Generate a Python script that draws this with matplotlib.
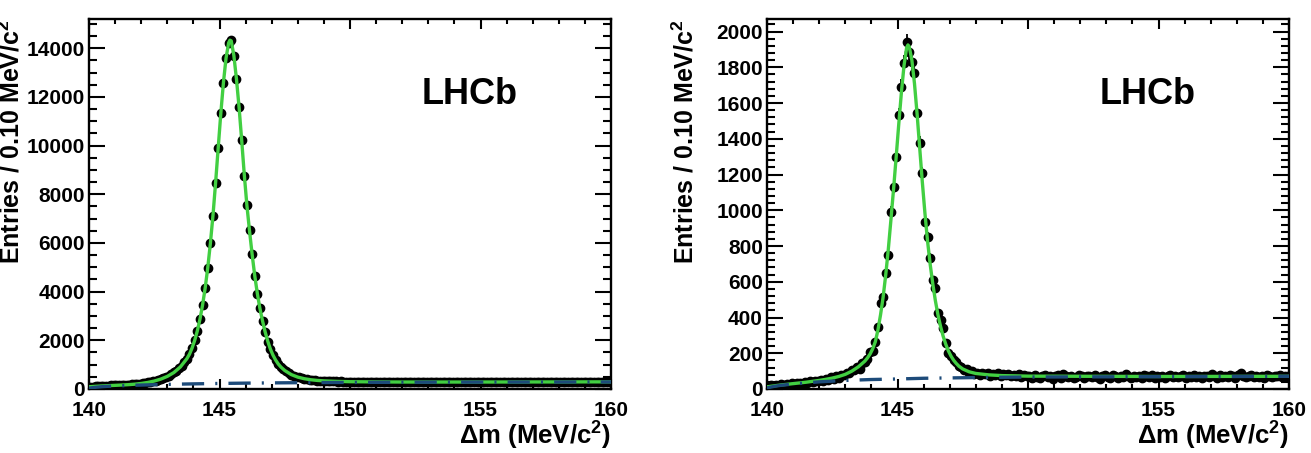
import numpy as np
import matplotlib
matplotlib.use("Agg")
import matplotlib.pyplot as plt
from matplotlib.ticker import MultipleLocator

plt.rcParams['font.family'] = ['Liberation Sans', 'DejaVu Sans']
plt.rcParams['font.weight'] = 'bold'
plt.rcParams['mathtext.fontset'] = 'custom'
plt.rcParams['mathtext.bf'] = 'Liberation Sans:bold'
plt.rcParams['mathtext.rm'] = 'Liberation Sans:bold'
plt.rcParams['mathtext.default'] = 'bf'
plt.rcParams['lines.scale_dashes'] = False

# ---------------- data ----------------
bin_first_center = 140.05
bin_width = 0.10

left_counts = [
    98, 101, 114, 112, 126, 125, 137, 136, 147, 145,
    156, 155, 168, 166, 178, 180, 193, 196, 212, 218,
    239, 248, 273, 286, 318, 338, 376, 403, 452, 489,
    550, 601, 681, 750, 856, 955, 1098, 1240, 1430, 1690,
    2000, 2380, 2860, 3440, 4130, 4980, 5990, 7120, 8480, 9900,
    11330, 12560, 13580, 14210, 14330, 13690, 12740, 11590, 10220, 8760,
    7540, 6520, 5540, 4660, 3910, 3310, 2800, 2340, 1950, 1630,
    1395, 1185, 1040, 900, 815, 722, 655, 588, 548, 500,
    480, 447, 418, 405, 381, 376, 360, 346, 345, 330,
    333, 322, 325, 312, 318, 305, 311, 300, 306, 297,
    298, 285, 292, 280, 301, 289, 276, 295, 290, 283,
    287, 300, 281, 293, 278, 296, 288, 284, 302, 279,
    291, 286, 297, 282, 289, 305, 277, 290, 294, 284,
    288, 281, 299, 292, 276, 287, 296, 283, 290, 301,
    285, 293, 280, 288, 297, 284, 291, 278, 300, 289,
    294, 283, 290, 302, 286, 279, 295, 288, 292, 281,
    297, 287, 284, 299, 291, 280, 293, 289, 303, 286,
    290, 296, 282, 288, 300, 285, 292, 278, 295, 291,
    287, 301, 289, 283, 297, 292, 280, 294, 299, 286,
    293, 288, 304, 290, 284, 298, 291, 287, 296, 292,
]

right_counts = [
    12, 22, 15, 25, 19, 28, 21, 30, 24, 33,
    27, 36, 31, 29, 41, 35, 44, 38, 47, 42,
    52, 45, 58, 50, 66, 57, 72, 64, 80, 76,
    90, 88, 106, 104, 125, 112, 146, 150, 168, 205,
    212, 265, 345, 480, 516, 647, 749, 990, 1131, 1299,
    1532, 1691, 1825, 1940, 1885, 1830, 1766, 1542, 1377, 1206,
    936, 850, 735, 610, 563, 423, 386, 339, 256, 200,
    185, 162, 150, 128, 121, 104, 110, 92, 98, 84,
    91, 79, 88, 82, 90, 75, 86, 80, 88, 73,
    84, 77, 82, 70, 79, 74, 83, 69, 77, 72,
    72, 64, 78, 69, 60, 75, 81, 67, 73, 58,
    70, 77, 63, 84, 71, 66, 74, 59, 68, 79,
    72, 62, 75, 70, 65, 80, 68, 57, 73, 76,
    69, 64, 78, 71, 60, 74, 67, 82, 70, 63,
    75, 68, 72, 61, 77, 70, 66, 79, 64, 72,
    69, 75, 62, 71, 80, 67, 73, 65, 70, 76,
    63, 74, 69, 78, 66, 71, 60, 75, 72, 68,
    83, 70, 64, 77, 69, 73, 66, 80, 71, 62,
    76, 88, 70, 67, 74, 79, 65, 72, 69, 75,
    63, 78, 71, 67, 74, 70, 76, 68, 72, 73,
]

# total fit (knots of the fitted curve)
left_fit_x = [140.0, 140.25, 140.5, 140.75, 141.0, 141.25, 141.5, 141.75, 142.0, 142.25,
              142.5, 142.75, 143.0, 143.25, 143.5, 143.75, 143.85, 143.95, 144.05, 144.15,
              144.25, 144.35, 144.45, 144.55, 144.65, 144.75, 144.85, 144.95, 145.05, 145.15,
              145.25, 145.35, 145.40, 145.45, 145.55, 145.65, 145.75, 145.85, 145.95, 146.05,
              146.15, 146.25, 146.35, 146.45, 146.55, 146.65, 146.75, 146.85, 146.95, 147.05,
              147.15, 147.25, 147.35, 147.5, 147.75, 148.0, 148.25, 148.5, 148.75, 149.0,
              149.5, 150.0, 151.0, 152.0, 154.0, 156.0, 158.0, 160.0]
left_fit_y = [92, 110, 125, 138, 150, 163, 178, 198, 228, 269,
              327, 407, 518, 675, 905, 1245, 1430, 1685, 2000, 2385,
              2860, 3440, 4140, 4980, 5980, 7130, 8470, 9900, 11320, 12580,
              13590, 14220, 14330, 14300, 13700, 12730, 11570, 10220, 8800, 7540,
              6500, 5530, 4660, 3920, 3300, 2790, 2340, 1960, 1640, 1390,
              1190, 1030, 905, 760, 592, 488, 422, 380, 352, 334,
              313, 300, 291, 287, 286, 288, 291, 294]
# background component
left_bkg_x = [140.0, 140.25, 140.5, 140.75, 141.0, 141.5, 142.0, 142.5, 143.0, 143.5,
              144.0, 145.0, 146.0, 147.0, 148.0, 150.0, 152.0, 155.0, 160.0]
left_bkg_y = [35, 70, 95, 112, 125, 145, 162, 176, 190, 201,
              211, 228, 241, 251, 259, 270, 277, 283, 290]

right_fit_x = [140.0, 140.25, 140.5, 140.75, 141.0, 141.25, 141.5, 141.75, 142.0, 142.25,
               142.5, 142.75, 143.0, 143.25, 143.5, 143.75, 143.85, 143.95, 144.05, 144.15,
               144.25, 144.35, 144.45, 144.55, 144.65, 144.75, 144.85, 144.95, 145.05, 145.15,
               145.25, 145.35, 145.40, 145.45, 145.55, 145.65, 145.75, 145.85, 145.95, 146.05,
               146.15, 146.25, 146.35, 146.45, 146.55, 146.65, 146.75, 146.85, 146.95, 147.05,
               147.15, 147.25, 147.35, 147.5, 147.75, 148.0, 148.5, 149.0, 150.0, 155.0, 160.0]
right_fit_y = [12, 17, 22, 26, 30, 34, 38, 43, 48, 54,
               61, 70, 82, 100, 124, 156, 174, 196, 225, 264,
               330, 415, 515, 640, 785, 950, 1120, 1300, 1485, 1660,
               1810, 1910, 1925, 1915, 1840, 1710, 1540, 1350, 1160, 985,
               830, 700, 590, 495, 415, 350, 295, 250, 213, 184,
               161, 143, 128, 112, 96, 87, 79, 75, 72, 70, 71]
right_bkg_x = [140.0, 140.25, 140.5, 141.0, 141.5, 142.0, 142.5, 143.0, 144.0, 145.0,
               146.0, 148.0, 150.0, 155.0, 160.0]
right_bkg_y = [6, 14, 20, 28, 34, 40, 44, 48, 53, 56,
               60, 64, 67, 69, 71]

x_ticks = [140, 145, 150, 155, 160]
left_y_ticks = [0, 2000, 4000, 6000, 8000, 10000, 12000, 14000]
right_y_ticks = [0, 200, 400, 600, 800, 1000, 1200, 1400, 1600, 1800, 2000]

# ---------------- style ----------------
GREEN = '#42cf42'
BLUE = '#1d4b7a'
W, H = 1311, 453

fig = plt.figure(figsize=(W / 100, H / 100), dpi=100)
fig.patch.set_facecolor('white')


def panel(ax, counts, fx, fy, bx, by, ymax, yticks, yminor):
    c = np.asarray(counts, dtype=float)
    centers = bin_first_center + bin_width * np.arange(len(c))
    ax.errorbar(centers, c, yerr=np.sqrt(c), fmt='o', color='black', ms=6.0,
                elinewidth=1.3, capsize=0, zorder=2)
    ax.plot(fx, fy, color=GREEN, lw=2.4, zorder=3, solid_joinstyle='round')
    ax.plot(bx, by, color=BLUE, lw=2.4, ls=(0, (16, 8, 1.5, 8)), zorder=4)
    ax.set_xlim(140, 160)
    ax.set_ylim(0, ymax)
    ax.set_xticks(x_ticks)
    ax.set_xticklabels([str(t) for t in x_ticks])
    ax.set_yticks(yticks)
    ax.set_yticklabels([str(t) for t in yticks])
    ax.xaxis.set_minor_locator(MultipleLocator(1))
    ax.yaxis.set_minor_locator(MultipleLocator(yminor))
    ax.tick_params(which='both', direction='in', top=True, right=True,
                   width=1.5, colors='black')
    ax.tick_params(axis='x', which='major', length=7.5, pad=9, labelsize=15)
    ax.tick_params(axis='x', which='minor', length=3.8)
    ax.tick_params(axis='y', which='major', length=11.5, pad=3, labelsize=15)
    ax.tick_params(axis='y', which='minor', length=5.7)
    for lab in ax.get_xticklabels() + ax.get_yticklabels():
        lab.set_fontweight('bold')
    for sp in ax.spines.values():
        sp.set_linewidth(1.7)


ax1 = fig.add_axes([89 / W, 64 / H, 522 / W, 370 / H])
ax2 = fig.add_axes([767 / W, 64 / H, 522 / W, 370 / H])
panel(ax1, left_counts, left_fit_x, left_fit_y, left_bkg_x, left_bkg_y,
      15200, left_y_ticks, 500)
panel(ax2, right_counts, right_fit_x, right_fit_y, right_bkg_x, right_bkg_y,
      2070, right_y_ticks, 40)

xlabel = 'Δm (MeV/$c^2$)'
ylabel = 'Entries / 0.10 MeV/$c^2$'
for x_right, x_ylab, x_lhcb in [(611, 11.5, 470), (1289, 685, 1148)]:
    fig.text(x_right / W, 1 - 436 / H, xlabel, ha='right', va='center',
             fontsize=18.5, fontweight='bold')
    fig.text(x_ylab / W, 1 - 19 / H, ylabel, ha='center', va='top',
             rotation=90, fontsize=18, fontweight='bold')
    fig.text(x_lhcb / W, 1 - 94 / H, 'LHCb', ha='center', va='center',
             fontsize=26, fontweight='bold')

fig.savefig('out.png', dpi=100, facecolor='white')
